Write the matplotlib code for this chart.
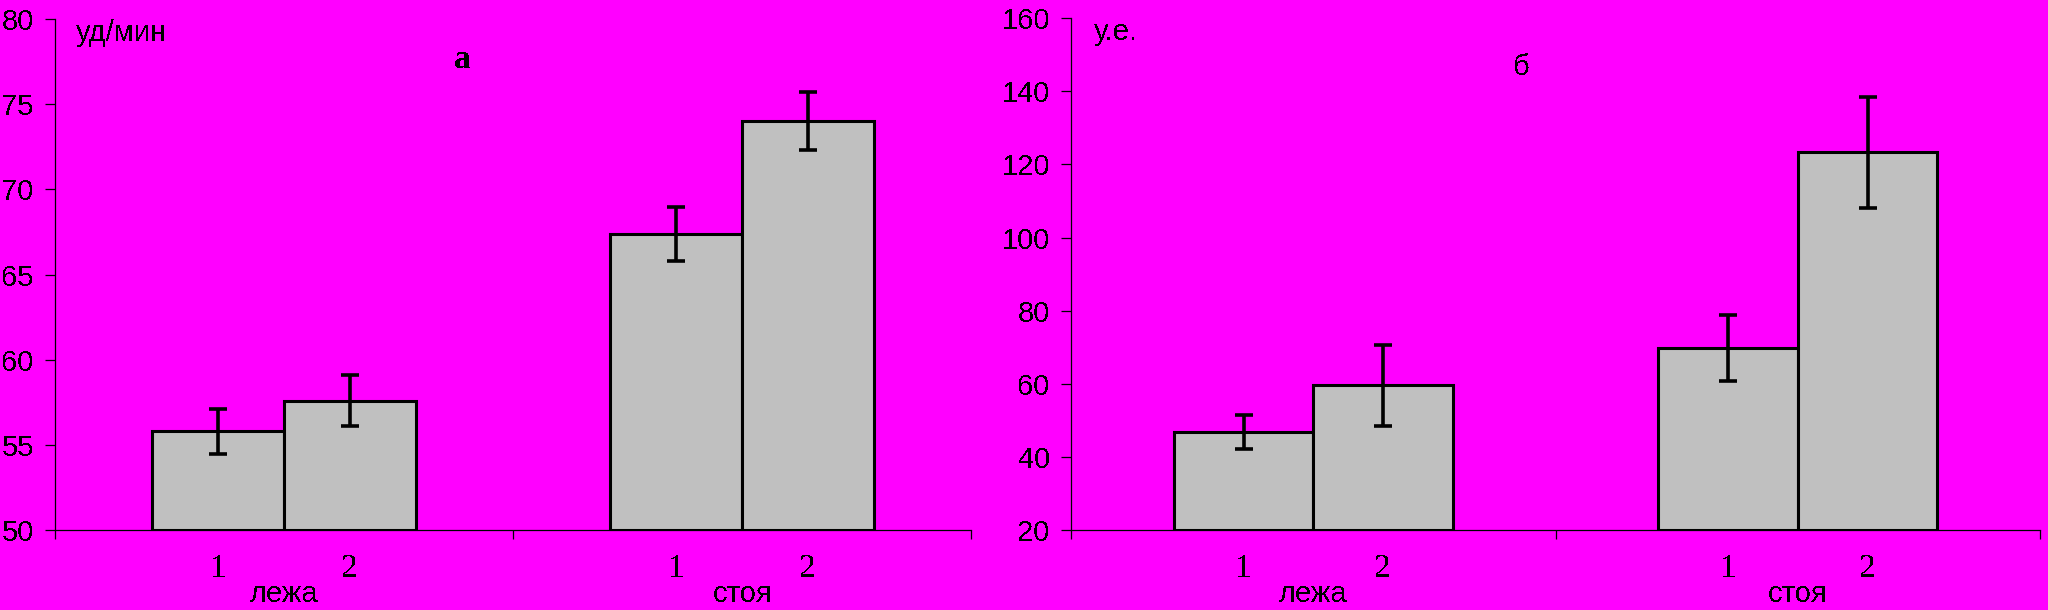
"""Два столбчатых графика: ЧСС (а) и показатель в у.е. (б) лежа и стоя."""
import matplotlib
matplotlib.use("Agg")
import matplotlib.pyplot as plt
import numpy as np

# Данные
categories = ["лежа", "стоя"]
series_labels = ["1", "2"]

# а: уд/мин
hr_1 = [55.8, 67.4]
hr_2 = [57.6, 74.0]
hr_err_1 = [1.3, 1.6]
hr_err_2 = [1.5, 1.7]

# б: у.е.
ue_1 = [46.8, 69.7]
ue_2 = [59.6, 123.3]
ue_err_1 = [4.6, 9.0]
ue_err_2 = [11.0, 15.2]

BG = "#FF00FF"
BAR = "#C0C0C0"
SANS = "Liberation Sans"
SERIF = "Liberation Serif"
BAR_W = 0.288

plt.rcParams["font.family"] = [SANS, "DejaVu Sans"]
plt.rcParams["text.antialiased"] = False


def draw_panel(ax, v1, v2, e1, e2, ylim, yticks, unit, letter, letter_kw):
    """Один график: две группы по два столбика с усами погрешности."""
    x = np.arange(len(categories))
    xs = [x - BAR_W / 2, x + BAR_W / 2]
    for pos, vals, errs in zip(xs, [v1, v2], [e1, e2]):
        base = ylim[0]
        ax.bar(pos, np.array(vals) - base, bottom=base, width=BAR_W,
               color=BAR, edgecolor="black", linewidth=2.2, zorder=2)
        ax.errorbar(pos, vals, yerr=errs, fmt="none", ecolor="black",
                    elinewidth=2.6, capsize=6.2, capthick=2.6, zorder=3)

    ax.set_facecolor(BG)
    ax.set_xlim(-0.5, len(categories) - 0.5)
    ax.set_ylim(*ylim)
    ax.set_yticks(yticks)
    ax.set_xticks(np.arange(len(categories) + 1) - 0.5)
    ax.set_xticklabels([])
    for s in ("top", "right"):
        ax.spines[s].set_visible(False)
    for s in ("left", "bottom"):
        ax.spines[s].set_linewidth(0.9)
    ax.tick_params(axis="y", direction="out", length=7.2, width=0.9,
                   labelsize=21, pad=8)
    ax.tick_params(axis="x", direction="out", length=6.5, width=0.9)

    # подписи серий и категорий под осью
    for i, cat in enumerate(categories):
        for j, pos in enumerate(xs):
            ax.annotate(series_labels[j], xy=(pos[i], 0), xycoords=("data", "axes fraction"),
                        xytext=(0, -34), textcoords="offset points",
                        ha="center", va="baseline", fontsize=24, family=SERIF)
        ax.annotate(cat, xy=(x[i], 0), xycoords=("data", "axes fraction"),
                    xytext=(0, -52), textcoords="offset points",
                    ha="center", va="baseline", fontsize=21)

    ax.text(0.023, 0.958, unit, transform=ax.transAxes, fontsize=21,
            ha="left", va="baseline")
    ax.text(letter_kw["x"], letter_kw["y"], letter, transform=ax.transAxes,
            ha="center", va="baseline", **letter_kw["style"])


fig = plt.figure(figsize=(20.48, 6.10), dpi=100, facecolor=BG)
ax_a = fig.add_axes([0.0270, 0.1307, 0.4473, 0.838])
ax_b = fig.add_axes([0.5231, 0.1307, 0.4730, 0.8398])

draw_panel(ax_a, hr_1, hr_2, hr_err_1, hr_err_2, (50, 80), np.arange(50, 81, 5),
           "уд/мин", "а",
           {"x": 0.444, "y": 0.904,
            "style": {"fontsize": 24, "family": SERIF, "fontweight": "bold"}})
draw_panel(ax_b, ue_1, ue_2, ue_err_1, ue_err_2, (20, 160), np.arange(20, 161, 20),
           "у.е.", "б",
           {"x": 0.465, "y": 0.888, "style": {"fontsize": 21}})

fig.savefig("out.png", dpi=100, facecolor=BG)
